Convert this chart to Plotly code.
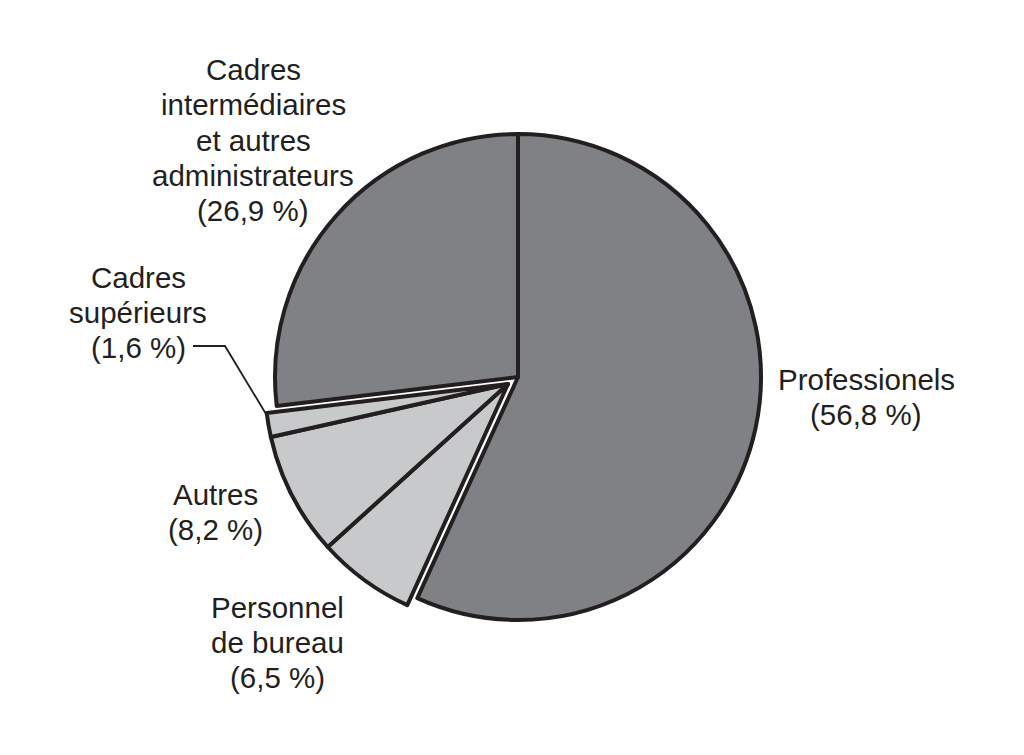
"""
Pie chart: répartition des employés par catégorie professionnelle.
The light-grey group of slices is drawn by a second pie, shifted a little
towards the lower left, so the group looks pulled out as one piece.
"""

import plotly.graph_objects as go

# Data (clockwise from 12 o'clock)
categories = [
    "Professionels",
    "Personnel<br>de bureau",
    "Autres",
    "Cadres<br>supérieurs",
    "Cadres<br>intermédiaires<br>et autres<br>administrateurs",
]
shares = [56.8, 6.5, 8.2, 1.6, 26.9]
pulled_out = [False, True, True, True, False]

# Styles
DARK = "#808185"
LIGHT = "#c8c9cb"
INK = "#231f20"
W, H = 1024, 755
PAGE_OFFSET = 8  # body margin of the html page
LINE_PITCH = 35
FONT = dict(family="Liberation Sans, Arial, sans-serif", size=29.5, color=INK)


def px_x(x):
    return (x - PAGE_OFFSET) / W


def px_y(y):
    return 1 - (y - PAGE_OFFSET) / H


def domain(cx, cy, r):
    return dict(x=[px_x(cx - r), px_x(cx + r)], y=[px_y(cy + r), px_y(cy - r)])


def pct(v):
    return f"({v:.1f} %)".replace(".", ",")


base_colors = ["rgba(0,0,0,0)" if p else DARK for p in pulled_out]
base_widths = [0 if p else 4 for p in pulled_out]
moved_colors = [LIGHT if p else "rgba(0,0,0,0)" for p in pulled_out]
moved_widths = [4 if p else 0 for p in pulled_out]

fig = go.Figure()
fig.add_trace(go.Pie(
    labels=categories, values=shares, sort=False, direction="clockwise",
    rotation=0, textinfo="none", hoverinfo="label+value",
    marker=dict(colors=base_colors, line=dict(color=INK, width=base_widths)),
    domain=domain(518, 377, 243),
))
fig.add_trace(go.Pie(
    labels=categories, values=shares, sort=False, direction="clockwise",
    rotation=0, textinfo="none", hoverinfo="label+value",
    marker=dict(colors=moved_colors, line=dict(color=INK, width=moved_widths)),
    domain=domain(508, 384, 243),
))

# Label positions (pixel centres of each text block)
label_pos = [(866, 397), (277, 642), (215, 512), (138, 312), (253, 140)]
for name, val, (lx, ly) in zip(categories, shares, label_pos):
    lines = name.split("<br>") + [pct(val)]
    n = len(lines)
    for i, line in enumerate(lines):
        fig.add_annotation(
            x=px_x(lx), y=px_y(ly + (i - (n - 1) / 2) * LINE_PITCH),
            xref="paper", yref="paper", text=line, showarrow=False,
            xanchor="center", yanchor="middle", font=FONT,
        )

# Leader line for "Cadres supérieurs"
fig.add_shape(
    type="path", xref="paper", yref="paper",
    path=f"M {px_x(193)} {px_y(346)} L {px_x(225)} {px_y(346)} L {px_x(266)} {px_y(414)}",
    line=dict(color=INK, width=1.8),
)

fig.update_layout(
    width=W, height=H, showlegend=False,
    margin=dict(l=0, r=0, t=0, b=0),
    paper_bgcolor="white", plot_bgcolor="white",
)

fig.write_html("out.html")
